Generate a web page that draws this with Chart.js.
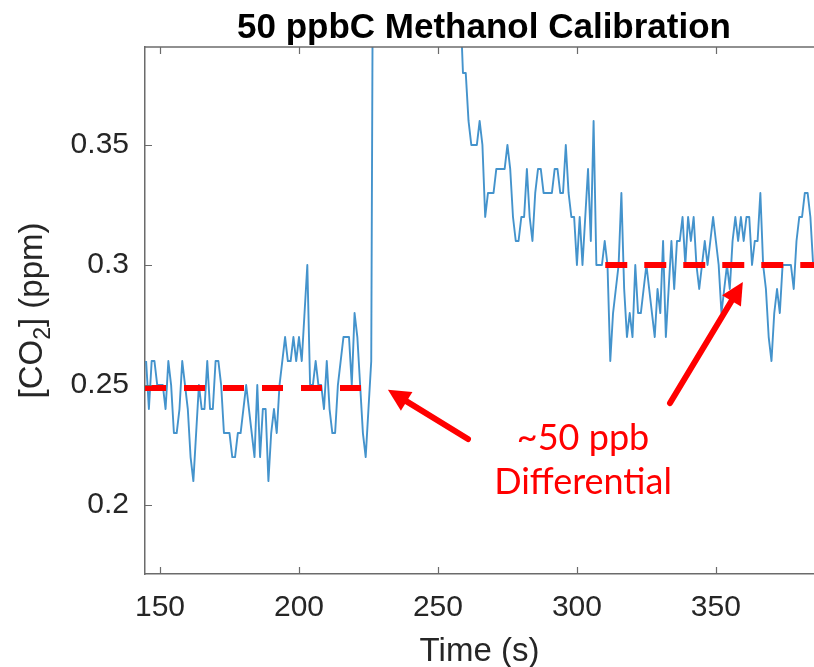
<!DOCTYPE html>
<html>
<head>
<meta charset="utf-8">
<script src="https://cdn.jsdelivr.net/npm/chart.js@4.4.0/dist/chart.umd.min.js"></script>
<style>
  html, body { margin: 0; padding: 0; background: #fff; }
</style>
</head>
<body>
<canvas id="myChart" width="814" height="667"></canvas>
<script>
// CO2 signal, one sample per second starting at t = 145 s
const startTime = 145;
const co2 = [
  0.26,0.24,0.26,0.26,0.25,0.25,0.25,0.24,0.26,0.25,
  0.23,0.23,0.24,0.26,0.25,0.24,0.22,0.21,0.23,0.25,
  0.24,0.24,0.26,0.24,0.24,0.26,0.26,0.25,0.23,0.23,
  0.23,0.22,0.22,0.23,0.23,0.24,0.25,0.24,0.23,0.22,
  0.25,0.22,0.24,0.24,0.21,0.23,0.24,0.23,0.25,0.26,
  0.27,0.26,0.26,0.27,0.26,0.27,0.26,0.28,0.30,0.25,
  0.25,0.26,0.25,0.25,0.24,0.26,0.24,0.23,0.23,0.25,
  0.26,0.27,0.27,0.27,0.25,0.28,0.27,0.25,0.23,0.22,
  0.24,0.26,0.55,0.7,0.8,0.85,0.9,0.88,0.86,0.84,
  0.8,0.78,0.75,0.72,0.7,0.68,0.66,0.64,0.62,0.6,
  0.58,0.56,0.55,0.53,0.52,0.5,0.49,0.48,0.47,0.46,
  0.45,0.44,0.43,0.41,0.38,0.38,0.36,0.35,0.35,0.35,
  0.36,0.35,0.32,0.33,0.33,0.33,0.34,0.34,0.34,0.34,
  0.35,0.34,0.32,0.31,0.31,0.32,0.32,0.34,0.32,0.31,
  0.33,0.34,0.34,0.33,0.33,0.33,0.33,0.34,0.34,0.33,
  0.33,0.35,0.33,0.32,0.32,0.30,0.32,0.30,0.32,0.34,
  0.31,0.36,0.30,0.30,0.30,0.31,0.30,0.26,0.28,0.29,
  0.30,0.33,0.29,0.27,0.28,0.27,0.30,0.28,0.28,0.29,
  0.30,0.29,0.28,0.27,0.29,0.28,0.31,0.27,0.29,0.31,
  0.29,0.31,0.31,0.32,0.30,0.32,0.31,0.32,0.30,0.29,
  0.30,0.31,0.30,0.31,0.32,0.31,0.30,0.28,0.29,0.30,
  0.29,0.31,0.32,0.31,0.32,0.31,0.32,0.32,0.30,0.31,
  0.31,0.33,0.30,0.29,0.27,0.26,0.28,0.29,0.28,0.30,
  0.30,0.30,0.30,0.29,0.31,0.32,0.32,0.33,0.33,0.32,
  0.30
];

const xTicks = [150, 200, 250, 300, 350];
const yTicks = [0.2, 0.25, 0.3, 0.35];
const yTickLabels = ['0.2', '0.25', '0.3', '0.35'];

// dashed reference levels
const baseLevel = [{ x: 144.6, y: 0.2488 }, { x: 223.4, y: 0.2488 }];
const calLevel = [{ x: 310.2, y: 0.3 }, { x: 390, y: 0.3 }];

// annotation arrows: [tailX, tailY, headX, headY] in data units
const arrows = [
  [260.8, 0.2275, 232.0, 0.2480],
  [333.5, 0.2425, 359.7, 0.2929]
];
const noteLines = ['~50 ppb', 'Differential'];
const notePos = [{ x: 302.2, y: 0.2228 }, { x: 302.2, y: 0.2045 }];

const axisColor = '#6b6b6b';
const textColor = '#262626';
const sans = '"Liberation Sans", Arial, Helvetica, sans-serif';

const points = co2.map((v, i) => ({ x: startTime + i, y: v }));

const extras = {
  id: 'extras',
  afterDatasetsDraw(chart) {
    const { ctx, scales: { x, y } } = chart;
    ctx.save();

    // arrows
    ctx.strokeStyle = '#ff0000';
    ctx.fillStyle = '#ff0000';
    ctx.lineWidth = 6;
    ctx.lineCap = 'round';
    arrows.forEach(([tx, ty, hx, hy]) => {
      const x0 = x.getPixelForValue(tx), y0 = y.getPixelForValue(ty);
      const x1 = x.getPixelForValue(hx), y1 = y.getPixelForValue(hy);
      const ang = Math.atan2(y1 - y0, x1 - x0);
      const len = 22, half = 11;
      const bx = x1 - len * Math.cos(ang), by = y1 - len * Math.sin(ang);
      ctx.beginPath();
      ctx.moveTo(x0, y0);
      ctx.lineTo(bx + 2 * Math.cos(ang), by + 2 * Math.sin(ang));
      ctx.stroke();
      ctx.beginPath();
      ctx.moveTo(x1, y1);
      ctx.lineTo(bx + half * Math.sin(ang), by - half * Math.cos(ang));
      ctx.lineTo(bx - half * Math.sin(ang), by + half * Math.cos(ang));
      ctx.closePath();
      ctx.fill();
    });

    // note text
    ctx.font = '36px Lato, "Open Sans", sans-serif';
    ctx.textAlign = 'center';
    ctx.textBaseline = 'alphabetic';
    noteLines.forEach((t, i) => {
      ctx.fillText(t, x.getPixelForValue(notePos[i].x), y.getPixelForValue(notePos[i].y));
    });
    ctx.restore();
  },
  afterDraw(chart) {
    const { ctx, chartArea: a, scales: { x, y } } = chart;
    ctx.save();
    // top frame line
    ctx.strokeStyle = axisColor;
    ctx.lineWidth = 1.5;
    ctx.beginPath();
    ctx.moveTo(a.left, a.top);
    ctx.lineTo(a.right, a.top);
    ctx.stroke();

    // inward tick marks
    const tl = 7;
    ctx.beginPath();
    xTicks.forEach(v => {
      const px = Math.round(x.getPixelForValue(v)) + 0.5;
      ctx.moveTo(px, a.bottom); ctx.lineTo(px, a.bottom - tl);
      ctx.moveTo(px, a.top); ctx.lineTo(px, a.top + tl);
    });
    yTicks.forEach(v => {
      const py = Math.round(y.getPixelForValue(v)) + 0.5;
      ctx.moveTo(a.left, py); ctx.lineTo(a.left + tl, py);
    });
    ctx.lineWidth = 1.2;
    ctx.stroke();

    // title
    ctx.fillStyle = '#000';
    ctx.font = 'bold 35px ' + sans;
    ctx.textAlign = 'center';
    ctx.textBaseline = 'alphabetic';
    ctx.fillText('50 ppbC Methanol Calibration', 484, 38);

    // y axis title with subscript
    ctx.fillStyle = textColor;
    ctx.translate(42, (a.top + a.bottom) / 2);
    ctx.rotate(-Math.PI / 2);
    const big = '33px ' + sans, small = '23px ' + sans;
    ctx.font = big;
    const p1 = '[CO', p3 = '] (ppm)';
    const w1 = ctx.measureText(p1).width, w3 = ctx.measureText(p3).width;
    ctx.font = small;
    const w2 = ctx.measureText('2').width;
    let cx = -(w1 + w2 + w3) / 2;
    ctx.textAlign = 'left';
    ctx.font = big;
    ctx.fillText(p1, cx, 0);
    cx += w1;
    ctx.font = small;
    ctx.fillText('2', cx, 8);
    cx += w2;
    ctx.font = big;
    ctx.fillText(p3, cx, 0);
    ctx.restore();
  }
};

const ctx = document.getElementById('myChart').getContext('2d');

new Chart(ctx, {
  type: 'line',
  data: {
    datasets: [
      {
        data: points,
        borderColor: 'rgba(35,128,195,0.85)',
        borderWidth: 1.9,
        borderJoinStyle: 'round',
        pointRadius: 0,
        tension: 0,
        order: 2
      },
      {
        data: baseLevel,
        borderColor: '#ff0000',
        borderWidth: 6,
        borderDash: [21, 18],
        pointRadius: 0,
        order: 1
      },
      {
        data: calLevel,
        borderColor: '#ff0000',
        borderWidth: 6,
        borderDash: [22, 17],
        pointRadius: 0,
        order: 1
      }
    ]
  },
  options: {
    responsive: false,
    animation: false,
    layout: { padding: { top: 47, right: 0, left: 0, bottom: 0 } },
    plugins: {
      legend: { display: false },
      tooltip: { enabled: false }
    },
    scales: {
      x: {
        type: 'linear',
        min: 144.6,
        max: 385.3,
        afterBuildTicks: s => { s.ticks = xTicks.map(v => ({ value: v })); },
        afterFit: s => { s.height = 93; },
        grid: { drawOnChartArea: false, drawTicks: false },
        border: { color: axisColor, width: 1.5 },
        ticks: {
          color: textColor,
          font: { family: sans, size: 30 },
          padding: 16,
          maxRotation: 0
        },
        title: {
          display: true,
          text: 'Time (s)',
          color: textColor,
          font: { family: sans, size: 33, lineHeight: 0.9 },
          padding: { top: 0, bottom: 0 }
        }
      },
      y: {
        min: 0.1713,
        max: 0.3908,
        afterBuildTicks: s => { s.ticks = yTicks.map(v => ({ value: v })); },
        afterFit: s => { s.width = 145; },
        grid: { drawOnChartArea: false, drawTicks: false },
        border: { color: axisColor, width: 1.5 },
        ticks: {
          color: textColor,
          font: { family: sans, size: 30 },
          padding: 16,
          callback: v => yTickLabels[yTicks.indexOf(v)]
        }
      }
    }
  },
  plugins: [extras]
});
</script>
</body>
</html>
